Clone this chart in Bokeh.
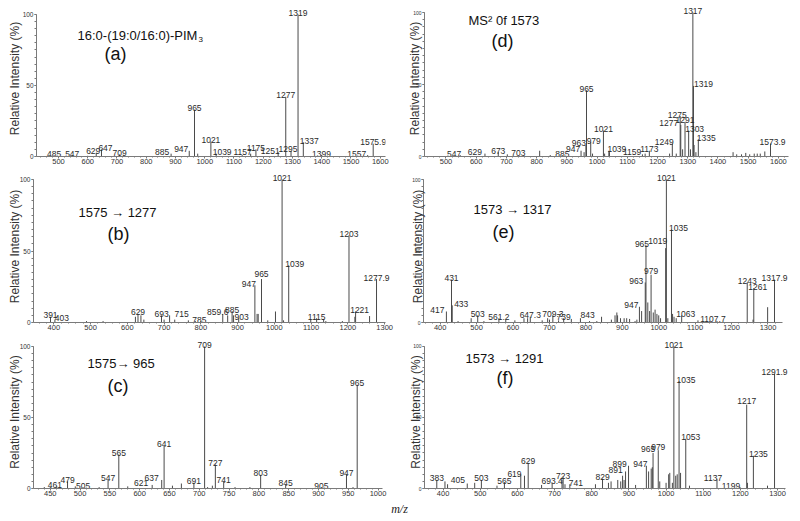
from bokeh.plotting import figure
from bokeh.models import Range1d, ColumnDataSource, SingleIntervalTicker, FixedTicker
from bokeh.layouts import row, column
from bokeh.embed import file_html
from bokeh.resources import INLINE
from bokeh.core.properties import value

# ---------------- data (m/z, relative intensity, peak label) ----------------
A_MZ = [485, 547, 600, 629, 647, 709, 885, 947, 965, 976, 1021, 1039, 1128, 1157, 1175, 1251, 1277, 1295, 1319, 1337, 1399, 1557, 1575.9]
A_INT = [1, 1, 0.5, 2.5, 5, 1.5, 2, 4, 33, 2, 10.5, 2, 1, 2, 5, 3, 42, 4, 100, 10, 1, 1, 9]
A_LAB = ["485", "547", "", "629", "647", "709", "885", "947", "965", "", "1021", "1039", "", "1157", "1175", "1251", "1277", "1295", "1319", "1337", "1399", "1557", "1575.9"]

D_MZ = [547, 629, 673, 703, 810, 845, 885, 947, 957, 963, 965, 979, 985, 1021, 1025, 1039, 1041, 1150, 1159, 1173, 1240, 1249, 1262, 1275, 1277, 1283, 1291, 1303, 1309, 1317, 1319, 1321, 1327, 1335, 1450, 1462, 1478, 1492, 1505, 1520, 1530, 1540, 1555, 1573.9]
D_INT = [1, 2, 3, 1.5, 4, 1, 1, 4, 3, 8, 46, 10, 2, 18, 2, 4, 3, 1.5, 2, 4, 2, 9, 2, 28, 22, 5, 24, 18, 5, 100, 49, 8, 3, 12, 3, 1.5, 1.5, 2.5, 1.5, 2, 2, 2, 3.5, 9]
D_LAB = ["547", "629", "673", "703", "", "", "885", "947", "", "963", "965", "979", "", "1021", "", "1039", "", "", "1159", "1173", "", "1249", "", "1275", "1277", "", "1291", "1303", "", "1317", "1319", "", "", "1335", "", "", "", "", "", "", "", "", "", "1573.9"]

B_MZ = [391, 403, 489, 534, 622, 629, 637, 645, 693, 700, 715, 729, 766, 785, 800, 859.6, 873, 885, 889, 903, 947, 953, 956, 965, 982, 1003, 1021, 1025, 1039, 1099, 1115, 1134, 1140, 1185, 1203, 1219, 1221, 1259, 1277.9]
B_INT = [4, 2, 1, 1, 4, 6, 5, 2, 5, 2, 5, 2, 1.5, 1, 1, 6, 5, 8, 5, 3, 26, 6, 6, 30.4, 1.5, 7.7, 100, 1.5, 40, 2, 3, 2.5, 1, 1, 61, 4, 7.7, 4.5, 30.4]
B_LAB = ["391", "403", "", "", "", "629", "", "", "693", "", "715", "", "", "785", "", "859.6", "", "885", "", "903", "947", "", "", "965", "", "", "1021", "", "1039", "", "1115", "", "", "", "1203", "", "1221", "", "1277.9"]

E_MZ = [417, 431, 433, 449, 485, 503, 520, 561.2, 580, 605, 630, 640, 647.3, 680, 695, 700, 709.3, 725, 739, 760, 785, 810, 830, 843, 870, 880, 885, 887, 895, 905, 912, 920, 935, 940, 947, 953, 963, 965, 970, 975, 979, 985, 990, 995, 1000, 1005, 1019, 1021, 1025, 1035, 1038, 1042, 1048, 1063, 1107.7, 1140, 1160, 1243, 1259, 1261, 1299, 1317.9]
E_INT = [7.7, 30, 12, 1, 3, 5, 1, 3, 2, 1.5, 3, 3, 4, 1.5, 3, 2, 5, 1.5, 3, 2.5, 3, 1, 1, 4, 2, 5, 7, 5, 3, 3, 3, 2.5, 1, 2, 11, 8, 28, 54, 14, 8, 33.4, 7, 9, 6, 5, 3, 52, 100, 3, 65, 6, 4, 3, 5, 1.5, 1, 1, 28, 2, 24, 10.7, 30]
E_LAB = ["417", "431", "433", "", "", "503", "", "561.2", "", "", "", "", "647.3", "", "", "", "709.3", "", "739", "", "", "", "", "843", "", "", "", "", "", "", "", "", "", "", "947", "", "963", "965", "", "", "979", "", "", "", "", "", "1019", "1021", "", "1035", "", "", "", "1063", "1107.7", "", "", "1243", "", "1261", "", "1317.9"]

C_MZ = [440, 450, 461, 479, 492, 505, 532, 547, 565, 580, 621, 637, 641, 655, 670, 691, 709, 714, 722, 727, 741, 760, 785, 803, 845, 905, 947, 958, 965]
C_INT = [1, 1, 1.5, 5, 1.5, 1, 1, 6, 24, 1.5, 2.5, 6, 30, 2, 3.5, 4, 100, 1, 2, 17, 5, 1, 1, 9.6, 3, 1, 10, 1, 73]
C_LAB = ["", "", "461", "479", "", "505", "", "547", "565", "", "621", "637", "641", "", "", "691", "709", "", "", "727", "741", "", "", "803", "845", "905", "947", "", "965"]

F_MZ = [383, 405, 412, 465, 485, 503, 545, 565, 609, 619, 629, 665, 693.4, 720, 723, 728, 741, 810, 829, 845, 852, 870, 878, 883, 887, 891, 899, 918, 947, 953, 960, 963, 965, 979, 983, 1000, 1007, 1010, 1017, 1021, 1026, 1030, 1035, 1039, 1053, 1063, 1137, 1199, 1217, 1219, 1235, 1273, 1291.9]
F_INT = [6, 5, 3, 3.5, 4, 6, 2, 4.5, 10, 9, 18, 2.5, 4, 6, 8, 3, 3, 3, 7, 4, 5, 6, 5, 9, 6, 12, 16, 2.5, 16, 12, 14, 15, 25, 27, 5, 4, 10, 11, 4, 100, 9, 10, 75.6, 11, 35, 2, 6.5, 1, 59, 4, 23, 2, 80.7]
F_LAB = ["383", "405", "", "", "", "503", "", "565", "", "619", "629", "", "693.4", "", "723", "", "741", "", "829", "", "", "", "", "", "", "891", "899", "", "947", "", "", "", "965", "979", "", "", "", "", "", "1021", "", "", "1035", "", "1053", "", "1137", "1199", "1217", "", "1235", "", "1291.9"]

Y_TICKS = [0, 50, 100]
Y_LABEL = "Relative Intensity (%)"
X_LABEL = "m/z"

TITLES = {
    "a": [("16:0-(19:0/16:0)-PIM", 77, 35, 13), ("3", 198, 39, 8), ("(a)", 104, 53.5, 18)],
    "d": [("MS\u00b2 0f 1573", 468, 20, 13), ("(d)", 491, 40.5, 18)],
    "b": [("1575 \u2192 1277", 78, 212, 13), ("(b)", 107, 233.5, 18)],
    "e": [("1573 \u2192 1317", 473, 209, 13), ("(e)", 492, 231.5, 18)],
    "c": [("1575\u2192 965", 87, 362.5, 13), ("(c)", 107, 385.5, 18)],
    "f": [("1573 \u2192 1291", 465, 358, 13), ("(f)", 496, 377.5, 18)],
}

# ---------------- layout / style (page pixel geometry) ----------------
FIG_W = 400
ROWS = {1: (0, 170), 2: (170, 165), 3: (335, 165)}
STRIP_TOP, STRIP_H = 500, 20
GEOM = {
    "a": dict(row=1, col=0, left=36, right=385, bottom=157, y100=14, anchor=(965, 194.0, 0.2925), tick=100, axis_end=None, side="L", std=-2),
    "d": dict(row=1, col=1, left=424, right=788, bottom=156, y100=12, anchor=(965, 586.0, 0.3022), tick=100, axis_end=None, side="R", std=-12),
    "b": dict(row=2, col=0, left=33, right=393, bottom=322, y100=179, anchor=(391, 50.0, 0.3676), tick=100, axis_end=385, side="L", std=-5),
    "e": dict(row=2, col=1, left=423, right=790, bottom=322, y100=179, anchor=(431, 451.0, 0.3642), tick=100, axis_end=782, side="R", std=-16),
    "c": dict(row=3, col=0, left=33, right=382, bottom=488, y100=346, anchor=(565, 118.3, 0.596), tick=50, axis_end=None, side="L", std=-5),
    "f": dict(row=3, col=1, left=424, right=790, bottom=489, y100=346, anchor=(629, 527.7, 0.3716), tick=100, axis_end=785, side="R", std=-13),
}
NUDGE = {
    "a": {"629": (-3, 0), "647": (4, 0), "885": (-9, 0), "947": (-8, 0), "1039": (6, 0), "1157": (-8, 0),
          "1251": (-8, 0), "1295": (-3, 0), "1337": (6, 0), "1557": (-11, 0)},
    "d": {"547": (-6, 0), "629": (-10, 0), "703": (11, 0), "947": (-8, 0), "963": (-7, 0), "979": (3, 0),
          "1039": (8, 0), "1159": (-13, 0), "1249": (-8, 0), "1275": (-3, 0), "1277": (-12, 0), "1303": (6, 0),
          "1319": (10, 0), "1335": (8, 0), "1573.9": (2, 0)},
    "b": {"403": (7, 0), "715": (12, 0), "785": (4, 0), "859.6": (-5, 0), "903": (3, 0), "947": (-6, 0),
          "965": (0, -4), "1039": (6, 0), "1221": (4, 0)},
    "c": {"621": (-11, 0), "637": (-10, 0), "461": (-2, 0)},
    "e": {"417": (-9, 0), "433": (9, 0), "843": (-14, 0), "947": (-8, 0), "963": (-9, 0), "965": (-4, 0),
          "979": (0, -2), "1019": (-8, -6), "1035": (7, 0), "1063": (4, 0), "1107.7": (15, 0), "1261": (4, 0)},
    "f": {"405": (13, 0), "619": (-10, 0), "741": (6, 0), "891": (-10, 0), "899": (-9, 0), "947": (-6, 0),
          "965": (-5, -2), "979": (0, -2), "1035": (7, 0), "1053": (5, 0), "1137": (-4, 0), "1199": (-9, 0),
          "1217": (0, -2), "1235": (5, 0)},
}

PEAK_COLOR = "#4a4a4a"
AXIS_COLOR = "#7a7a7a"
TEXT_COLOR = "#2a2a2a"
FONT = "Liberation Sans"


def make_panel(key, mz, inten, labels):
    g = GEOM[key]
    top, h = ROWS[g["row"]]
    fig_left = FIG_W * g["col"]
    a_mz, a_px, ppu = g["anchor"]
    x0 = a_mz + (g["left"] - a_px) / ppu
    x1 = a_mz + (g["right"] - a_px) / ppu
    ppy = (g["bottom"] - g["y100"]) / 100.0
    y1 = (g["bottom"] - top) / ppy

    p = figure(width=FIG_W, height=h, output_backend="svg", toolbar_location=None,
               x_range=Range1d(x0, x1), y_range=Range1d(0, y1),
               min_border_left=g["left"] - fig_left,
               min_border_right=fig_left + FIG_W - g["right"],
               min_border_top=0, min_border_bottom=top + h - g["bottom"])
    p.outline_line_color = None
    p.xgrid.visible = False
    p.ygrid.visible = False
    p.background_fill_color = "white"
    p.border_fill_color = "white"

    src = ColumnDataSource(dict(x=mz, y=inten, z=[0] * len(mz)))
    p.segment(x0="x", y0="z", x1="x", y1="y", source=src, line_color=PEAK_COLOR, line_width=1)

    lx, ly, lt, dx, dy = [], [], [], [], []
    for m, v, t in zip(mz, inten, labels):
        if t:
            nx, ny = NUDGE[key].get(t, (0, 0))
            lx.append(m); ly.append(v); lt.append(t); dx.append(nx); dy.append(-1.5 + ny)
    lsrc = ColumnDataSource(dict(x=lx, y=ly, t=lt, dx=dx, dy=dy))
    p.text(x="x", y="y", text="t", source=lsrc, x_offset="dx", y_offset="dy",
           text_align="center", text_baseline="alphabetic", text_color=TEXT_COLOR,
           text_font=value(FONT), text_font_size=value("8.5px"))

    for txt, px, py, fs in TITLES[key]:
        tx = x0 + (px - g["left"]) / ppu
        ty = (g["bottom"] - py) / ppy
        p.text(x=[tx], y=[ty], text=[txt], text_align="left", text_baseline="middle",
               text_color="#111111", text_font=value(FONT), text_font_size=value(f"{fs}px"))

    xa = p.xaxis[0]
    xa.ticker = SingleIntervalTicker(interval=g["tick"], num_minor_ticks=5)
    xa.bounds = (x0, (a_mz + (g["axis_end"] - a_px) / ppu) if g["axis_end"] else x1)
    xa.axis_line_color = AXIS_COLOR
    xa.major_tick_line_color = AXIS_COLOR
    xa.minor_tick_line_color = AXIS_COLOR
    xa.major_tick_out = 2
    xa.major_tick_in = 0
    xa.minor_tick_out = 1
    xa.minor_tick_in = 0
    xa.major_label_standoff = 0
    xa.major_label_text_font = FONT
    xa.major_label_text_font_size = "7.5px"
    xa.major_label_text_color = "#333333"

    ya = p.yaxis[0]
    ya.ticker = FixedTicker(ticks=Y_TICKS, minor_ticks=list(range(0, 101, 5)))
    ya.bounds = (0, 100)
    ya.axis_line_color = AXIS_COLOR
    ya.major_tick_line_color = AXIS_COLOR
    ya.minor_tick_line_color = AXIS_COLOR
    ya.major_tick_out = 2
    ya.major_tick_in = 0
    ya.minor_tick_out = 2
    ya.minor_tick_in = 0
    ya.major_label_standoff = 1
    ya.major_label_text_font = FONT
    ya.major_label_text_font_size = "6.5px" if g["side"] == "L" else "5px"
    ya.major_label_text_color = "#333333"
    ya.axis_label = Y_LABEL
    ya.axis_label_text_font = FONT
    ya.axis_label_text_font_style = "normal"
    ya.axis_label_text_font_size = "12px"
    ya.axis_label_text_color = "#333333"
    ya.axis_label_standoff = g["std"]
    return p


pa = make_panel("a", A_MZ, A_INT, A_LAB)
pd_ = make_panel("d", D_MZ, D_INT, D_LAB)
pb = make_panel("b", B_MZ, B_INT, B_LAB)
pe = make_panel("e", E_MZ, E_INT, E_LAB)
pc = make_panel("c", C_MZ, C_INT, C_LAB)
pf = make_panel("f", F_MZ, F_INT, F_LAB)

strip = figure(width=2 * FIG_W, height=STRIP_H, output_backend="svg", toolbar_location=None,
               x_range=Range1d(0, 2 * FIG_W), y_range=Range1d(STRIP_TOP + STRIP_H, STRIP_TOP),
               min_border_left=0, min_border_right=0, min_border_top=0, min_border_bottom=0)
strip.axis.visible = False
strip.grid.visible = False
strip.outline_line_color = None
strip.text(x=[399], y=[508], text=[X_LABEL], text_align="center", text_baseline="middle",
           text_color="#222222", text_font=value("Liberation Serif"), text_font_style="italic",
           text_font_size=value("12px"))

layout = column(row(pa, pd_), row(pb, pe), row(pc, pf), strip)
open("out.html", "w").write(file_html(layout, INLINE))
